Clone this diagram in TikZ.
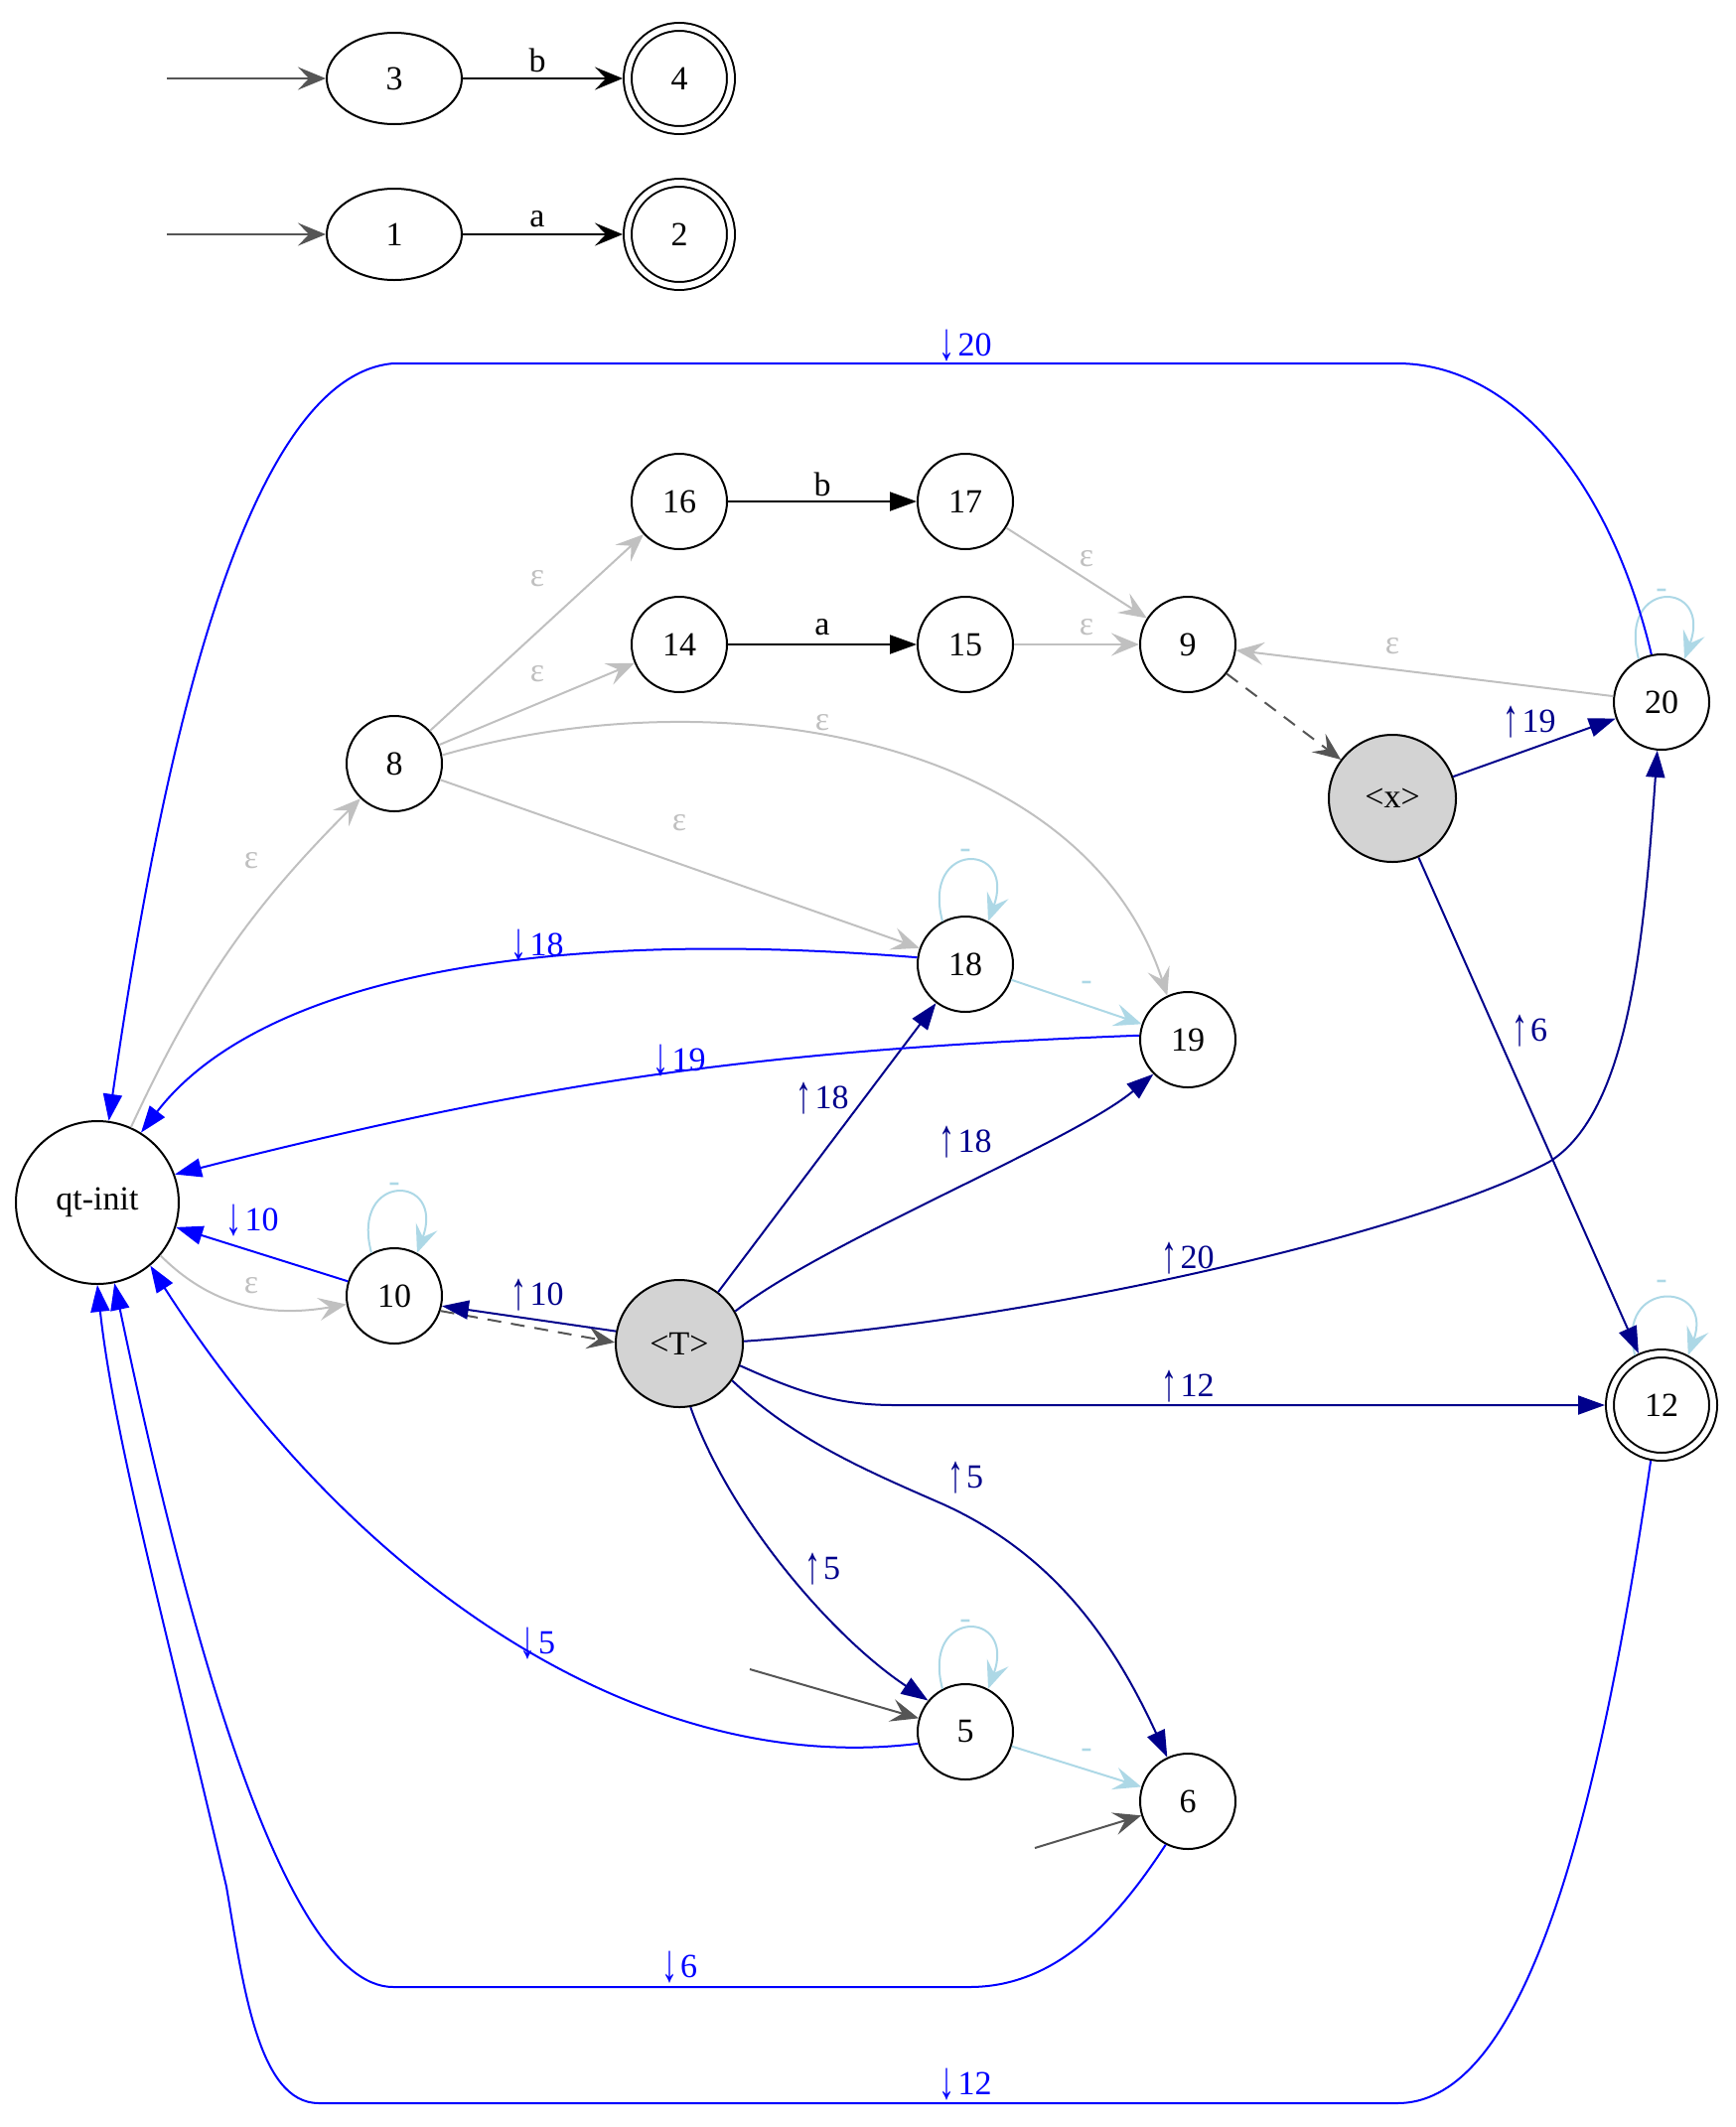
\documentclass[tikz,border=0pt]{standalone}
\usepackage{fontspec}
\setmainfont{Liberation Serif}
\usetikzlibrary{arrows.meta,shapes.geometric}
\definecolor{epsc}{HTML}{C0C0C0}
\definecolor{lbc}{HTML}{ADD8E6}
\definecolor{dbc}{HTML}{00008B}
\definecolor{bc}{HTML}{0000FF}
\definecolor{dgc}{HTML}{555555}
\definecolor{fillc}{HTML}{D3D3D3}
\newcommand\nf{\fontsize{34}{40}\selectfont}
\newcommand\uarr{\raisebox{-6pt}{\resizebox{16pt}{32pt}{\raisebox{\depth}{↑}}}\hspace{3pt}}
\newcommand\darr{\raisebox{-6pt}{\resizebox{16pt}{32pt}{\raisebox{\depth}{↓}}}\hspace{3pt}}
\tikzset{
  Vt/.tip={Stealth[length=28pt,width=23pt,inset=11pt]},
  Nt/.tip={Triangle[length=27pt,width=19pt]},
  st/.style={circle,draw,line width=2pt,minimum size=96pt,inner sep=0pt,font=\nf},
  ell/.style={ellipse,draw,line width=2pt,minimum width=136pt,minimum height=92pt,inner sep=0pt,font=\nf},
  acc/.style={circle,draw,line width=2pt,double,double distance=6pt,minimum size=104pt,inner sep=0pt,outer sep=5pt,font=\nf},
  gst/.style={st,fill=fillc,minimum size=128pt},
  epsedge/.style={draw=epsc,line width=2pt,-{Vt[fill=epsc]}},
  lbedge/.style={draw=lbc,line width=2pt,-{Vt[fill=lbc]}},
  dbedge/.style={draw=dbc,line width=2pt,-{Nt[fill=dbc]}},
  bedge/.style={draw=bc,line width=2pt,-{Nt[fill=bc]}},
  kedge/.style={draw=black,line width=2pt,-{Nt[fill=black]}},
  kvedge/.style={draw=black,line width=2pt,-{Vt[fill=black]}},
  startedge/.style={draw=dgc,line width=2pt,-{Vt[fill=dgc]}},
  dashedge/.style={draw=dgc,line width=2pt,dash pattern=on 14pt off 10pt,-{Vt[fill=dgc]}},
  lab/.style={font=\nf,inner sep=0pt},
  epslab/.style={lab,text=epsc},
  lblab/.style={lab,text=lbc},
  dblab/.style={lab,text=dbc},
  blab/.style={lab,text=bc}
}
\begin{document}
\begin{tikzpicture}[x=1pt,y=1pt]
\useasboundingbox (0,0) rectangle (1748,-2142);
% top small automata
\node[ell] (n3) at (397,-79) {3};
\node[acc] (n4) at (684,-79) {4};
\node[ell] (n1) at (397,-236) {1};
\node[acc] (n2) at (684,-236) {2};
\coordinate (s3) at (168,-79);
\coordinate (s1) at (168,-236);
\draw[startedge] (s3) -- (n3);
\draw[startedge] (s1) -- (n1);
\draw[kvedge] (n3) -- (n4);
\draw[kvedge] (n1) -- (n2);
\node[lab] (lb1) at (541,-61) {b};
\node[lab] (la1) at (541,-221) {a};
% main nodes
\node[st,minimum size=164pt] (qt) at (98,-1211) {qt-init};
\node[st] (n8) at (397,-769) {8};
\node[st] (n16) at (684,-505) {16};
\node[st] (n17) at (972,-505) {17};
\node[st] (n14) at (684,-649) {14};
\node[st] (n15) at (972,-649) {15};
\node[st] (n9) at (1196,-649) {9};
\node[gst] (x) at (1402,-804) {<x>};
\node[st] (n20) at (1673,-707) {20};
\node[st] (n18) at (972,-971) {18};
\node[st] (n19) at (1196,-1047) {19};
\node[st] (n10) at (397,-1305) {10};
\node[gst] (T) at (684,-1353) {<T>};
\node[acc] (n12) at (1673,-1415) {12};
\node[st] (n5) at (972,-1744) {5};
\node[st] (n6) at (1196,-1814) {6};
\coordinate (s5) at (755,-1681);
\coordinate (s6) at (1042,-1861);
% epsilon edges
\draw[epsedge] (qt) to[bend left=10] (n8);
\node[epslab] (e1) at (253,-867) {ε};
\draw[epsedge] (qt.-40) to[out=-45,in=190] (n10.190);
\node[epslab] (e2) at (253,-1295) {ε};
\draw[epsedge] (n8) -- (n16);
\node[epslab] (e3) at (541,-583) {ε};
\draw[epsedge] (n8) -- (n14);
\node[epslab] (e4) at (541,-679) {ε};
\draw[epsedge] (n8.10) .. controls (720,-680) and (1090,-740) .. (n19.115);
\node[epslab] (e5) at (828,-728) {ε};
\draw[epsedge] (n8) -- (n18);
\node[epslab] (e6) at (684,-829) {ε};
\draw[epsedge] (n17) -- (n9);
\node[epslab] (e7) at (1094,-563) {ε};
\draw[epsedge] (n15) -- (n9);
\node[epslab] (e8) at (1094,-632) {ε};
\draw[epsedge] (n20) -- (n9);
\node[epslab] (e9) at (1402,-651) {ε};
% letter edges
\draw[kedge] (n16) -- (n17);
\node[lab] (lb2) at (828,-488) {b};
\draw[kedge] (n14) -- (n15);
\node[lab] (la2) at (828,-632) {a};
% dashed
\draw[dashedge] (n9) -- (x);
\draw[dashedge] (n10.-18) -- (T.179);
% start arrows
\draw[startedge] (s5) -- (n5);
\draw[startedge] (s6) -- (n6);
% loops
\draw[lbedge] (n20.118) .. controls +(105:85) and +(70:85) .. (n20.62);
\node[lblab] (m1) at (1673,-598) {-};
\draw[lbedge] (n18.118) .. controls +(105:85) and +(70:85) .. (n18.62);
\node[lblab] (m2) at (972,-860) {-};
\draw[lbedge] (n10.118) .. controls +(105:85) and +(70:85) .. (n10.62);
\node[lblab] (m3) at (397,-1196) {-};
\draw[lbedge] (n5.118) .. controls +(105:85) and +(70:85) .. (n5.62);
\node[lblab] (m4) at (972,-1636) {-};
\draw[lbedge] (n12.118) .. controls +(105:80) and +(70:80) .. (n12.62);
\node[lblab] (m5) at (1673,-1294) {-};
\draw[lbedge] (n18) -- (n19);
\node[lblab] (m6) at (1094,-993) {-};
\draw[lbedge] (n5) -- (n6);
\node[lblab] (m7) at (1094,-1766) {-};
% dark blue edges
\draw[dbedge] (x) -- (n20);
\node[dblab] (u19) at (1540,-727) {\uarr19};
\draw[dbedge] (x) -- (n12);
\node[dblab] (u6) at (1540,-1038) {\uarr6};
\draw[dbedge] (T.169) -- (n10.-12);
\node[dblab] (u10) at (541,-1304) {\uarr10};
\draw[dbedge] (T) -- (n18);
\node[dblab] (u18a) at (828,-1106) {\uarr18};
\draw[dbedge] (T.30) .. controls (830,-1250) and (1080,-1150) .. (n19.-135);
\node[dblab] (u18b) at (972,-1150) {\uarr18};
\draw[dbedge] (T.2) .. controls (1050,-1330) and (1430,-1240) .. (1560,-1170)
   .. controls (1640,-1120) and (1655,-950) .. (n20.-95);
\node[dblab] (u20) at (1196,-1267) {\uarr20};
\draw[dbedge] (T.-20) .. controls (800,-1400) and (840,-1415) .. (900,-1415) -- (n12.west);
\node[dblab] (u12) at (1196,-1396) {\uarr12};
\draw[dbedge] (T.-80) .. controls (735,-1530) and (840,-1650) .. (n5.140);
\node[dblab] (u5a) at (828,-1580) {\uarr5};
\draw[dbedge] (T.-35) .. controls (800,-1450) and (870,-1480) .. (950,-1515)
   .. controls (1060,-1565) and (1120,-1650) .. (n6.115);
\node[dblab] (u5b) at (972,-1488) {\uarr5};
% blue edges to qt-init
\draw[bedge] (n20.102) .. controls (1620,-480) and (1520,-366) .. (1407,-366) -- (396,-366)
   .. controls (230,-380) and (150,-850) .. (qt.82);
\node[blab] (d20) at (972,-348) {\darr20};
\draw[bedge] (n18.172) .. controls (500,-930) and (250,-1000) .. (qt.58);
\node[blab] (d18) at (541,-952) {\darr18};
\draw[bedge] (n19.175) to[bend right=6] (qt.20);
\node[blab] (d19) at (684,-1068) {\darr19};
\draw[bedge] (n10) -- (qt);
\node[blab] (d10) at (254,-1229) {\darr10};
\draw[bedge] (n5.194) .. controls (650,-1790) and (360,-1600) .. (qt.-50);
\node[blab] (d5) at (541,-1655) {\darr5};
\draw[bedge] (n6.-117) .. controls (1120,-1940) and (1060,-2001) .. (976,-2001) -- (396,-2001)
   .. controls (280,-2001) and (180,-1600) .. (qt.-78);
\node[blab] (d6) at (684,-1981) {\darr6};
\draw[bedge] (n12.-101) .. controls (1600,-1900) and (1520,-2118) .. (1407,-2118) -- (321,-2118)
   .. controls (260,-2118) and (245,-2000) .. (228,-1900)
   .. controls (170,-1650) and (115,-1450) .. (qt.-90);
\node[blab] (d12) at (972,-2099) {\darr12};
\end{tikzpicture}
\end{document}
